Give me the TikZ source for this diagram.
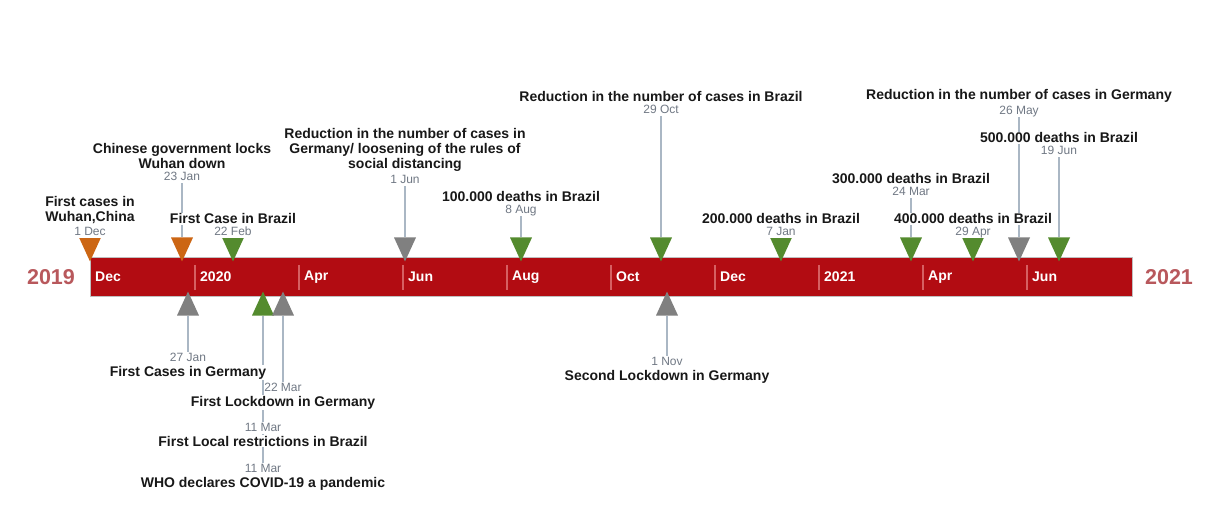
\documentclass[tikz,border=0pt]{standalone}
\usepackage{fontspec}
\setmainfont{Liberation Sans}
\usepackage{xcolor}
\usetikzlibrary{positioning,shapes.geometric,backgrounds}

\definecolor{barred}{RGB}{178,12,18}
\definecolor{divred}{RGB}{214,96,98}
\definecolor{yearred}{RGB}{184,88,92}
\definecolor{mkorange}{RGB}{204,102,20}
\definecolor{mkgreen}{RGB}{84,139,46}
\definecolor{mkgray}{RGB}{128,128,128}
\definecolor{stemgray}{RGB}{170,183,196}
\definecolor{dategray}{RGB}{112,120,132}
\definecolor{titleblack}{RGB}{24,24,24}

\begin{document}
\begin{tikzpicture}[
  x=1pt, y=-1pt,
  bar/.style={rectangle, draw=black!25, line width=0.8pt, fill=barred,
              minimum width=1042pt, minimum height=39pt, inner sep=0pt, anchor=north west},
  divider/.style={divred, line width=1.2pt},
  month/.style={anchor=west, text=white, inner sep=0pt, font=\fontsize{14}{16}\selectfont\bfseries},
  year/.style={text=yearred, font=\fontsize{21.5}{24}\selectfont\bfseries},
  evmark/.style={isosceles triangle, isosceles triangle stretches, inner sep=0pt,
                 minimum width=22pt, minimum height=24pt, anchor=apex},
  mdown/.style={evmark, shape border rotate=-90},
  mup/.style={evmark, shape border rotate=90},
  stem/.style={stemgray, line width=2pt},
  when/.style={fill=white, inner sep=0.5pt, text=dategray, text height=8.5pt, text depth=2pt,
               font=\fontsize{12}{14}\selectfont},
  what/.style={fill=white, inner sep=1pt, align=center, text=titleblack,
               font=\fontsize{14}{15}\selectfont\bfseries}
]
  \useasboundingbox (0,0) rectangle (1213,526);

  % bar and month ticks
  \node[bar] (bar) at (90,257) {};
  \foreach \i in {0,...,8}
    \draw[divider] (195+104*\i,265) -- (195+104*\i,290);
  \node[month] (mdec) at (95,277) {Dec};
  \foreach \m [count=\i from 0] in {2020,Apr,Jun,Aug,Oct,Dec,2021,Apr,Jun}
    \node[month] (m\i) at (200+104*\i,277) {\m};
  \node[year] (y2019) at (51,277)   {2019};
  \node[year] (y2021) at (1169,277) {2021};

  % events above the bar
  \node[mdown, fill=mkorange] (kwuhan)  at (90,262)   {};
  \node[when] (dwuhan)  at (90,232)   {1 Dec};
  \node[what, above=1pt of dwuhan]    (twuhan)  {First cases in\\Wuhan,China};

  \node[mdown, fill=mkorange] (klock)   at (182,262)  {};
  \node[when] (dlock)   at (182,177)  {23 Jan};
  \node[what, above=1pt of dlock]     (tlock)   {Chinese government locks\\Wuhan down};

  \node[mdown, fill=mkgreen]  (kbrfirst) at (233,262) {};
  \node[when] (dbrfirst) at (233,232) {22 Feb};
  \node[what, above=1pt of dbrfirst]  (tbrfirst) {First Case in Brazil};

  \node[mdown, fill=mkgray]   (kdejun)  at (405,262)  {};
  \node[when] (ddejun)  at (405,180)  {1 Jun};
  \node[what, above=1pt of ddejun]    (tdejun)  {Reduction in the number of cases in\\Germany/ loosening of the rules of\\social distancing};

  \node[mdown, fill=mkgreen]  (kcien)   at (521,262)  {};
  \node[when] (dcien)   at (521,210)  {8 Aug};
  \node[what, above=1pt of dcien]     (tcien)   {100.000 deaths in Brazil};

  \node[mdown, fill=mkgreen]  (kbroct)  at (661,262)  {};
  \node[when] (dbroct)  at (661,110)  {29 Oct};
  \node[what, above=1pt of dbroct]    (tbroct)  {Reduction in the number of cases in Brazil};

  \node[mdown, fill=mkgreen]  (kdois)   at (781,262)  {};
  \node[when] (ddois)   at (781,232)  {7 Jan};
  \node[what, above=1pt of ddois]     (tdois)   {200.000 deaths in Brazil};

  \node[mdown, fill=mkgreen]  (ktres)   at (911,262)  {};
  \node[when] (dtres)   at (911,192)  {24 Mar};
  \node[what, above=1pt of dtres]     (ttres)   {300.000 deaths in Brazil};

  \node[mdown, fill=mkgreen]  (kquatro) at (973,262)  {};
  \node[when] (dquatro) at (973,232)  {29 Apr};
  \node[what, above=1pt of dquatro]   (tquatro) {400.000 deaths in Brazil};

  \node[mdown, fill=mkgray]   (kdemay)  at (1019,262) {};
  \node[when] (ddemay)  at (1019,111) {26 May};
  \node[what, above=1pt of ddemay]    (tdemay)  {Reduction in the number of cases in Germany};

  \node[mdown, fill=mkgreen]  (kcinco)  at (1059,262) {};
  \node[when] (dcinco)  at (1059,151) {19 Jun};
  \node[what, above=1pt of dcinco]    (tcinco)  {500.000 deaths in Brazil};

  % events below the bar
  \node[mup, fill=mkgray]     (kdefirst) at (188,291) {};
  \node[when] (ddefirst) at (188,358) {27 Jan};
  \node[what, below=1pt of ddefirst]  (tdefirst) {First Cases in Germany};

  \node[mup, fill=mkgreen]    (kmar)    at (263,291)  {};
  \node[mup, fill=mkgray]     (kdelock) at (283,291)  {};
  \node[when] (ddelock) at (283,388)  {22 Mar};
  \node[what, below=1pt of ddelock]   (tdelock) {First Lockdown in Germany};

  \node[when] (dbrlocal) at (263,428) {11 Mar};
  \node[what, below=1pt of dbrlocal]  (tbrlocal) {First Local restrictions in Brazil};

  \node[when] (dwho)    at (263,469)  {11 Mar};
  \node[what, below=1pt of dwho]      (twho)    {WHO declares COVID-19 a pandemic};

  \node[mup, fill=mkgray]     (kdenov)  at (667,291)  {};
  \node[when] (ddenov)  at (667,362)  {1 Nov};
  \node[what, below=1pt of ddenov]    (tdenov)  {Second Lockdown in Germany};

  % stems behind labels and markers
  \begin{scope}[on background layer]
    \foreach \a/\b in {dlock/klock, ddejun/kdejun, dcien/kcien, dbroct/kbroct,
                       dtres/ktres, ddemay/kdemay, dcinco/kcinco,
                       kdefirst/ddefirst, kdelock/ddelock, kmar/dbrlocal,
                       kmar/dwho, kdenov/ddenov}
      \draw[stem] (\a) -- (\b);
  \end{scope}
\end{tikzpicture}
\end{document}
